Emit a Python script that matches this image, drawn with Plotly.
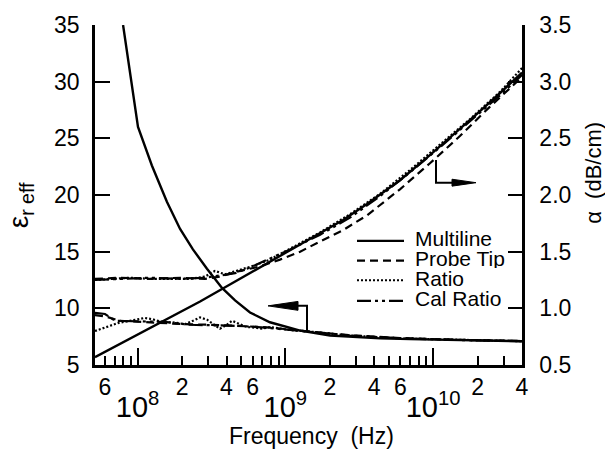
import plotly.graph_objects as go

# ---------------- data ----------------
# Effective permittivity (left axis)
ml_eps_f = [7.98e7, 1.007e8, 1.25e8, 1.58e8, 1.94e8, 2.37e8, 2.95e8, 3.73e8, 4.57e8, 5.77e8,
            7.87e8, 1.26e9, 2.01e9, 2.74e9, 4.38e9, 6.98e9, 1.30e10, 2.08e10, 4.0e10]
ml_eps = [35.0, 26.0, 22.6, 19.4, 17.0, 15.2, 13.5, 11.8, 10.7, 9.63,
          8.77, 8.04, 7.6, 7.5, 7.35, 7.28, 7.2, 7.15, 7.1]

pt_eps_f = [5.15e7, 6.02e7, 7.6e7, 1.04e8, 1.42e8, 2.09e8, 3.09e8, 4.22e8, 5.77e8, 7.87e8,
            1.08e9, 1.47e9, 2.74e9, 5.97e9, 1.52e10, 4.0e10]
pt_eps = [9.4, 9.3, 8.9, 8.8, 8.75, 8.6, 8.55, 8.5, 8.4, 8.3, 8.15, 7.95, 7.62, 7.38, 7.22, 7.12]

ra_eps_f = [5.15e7, 6.02e7, 7.37e7, 8.89e7, 1.12e8, 1.25e8, 1.46e8, 1.79e8, 2.09e8, 2.37e8,
            2.65e8, 2.95e8, 3.24e8, 3.61e8, 3.97e8, 4.36e8, 4.94e8, 5.50e8, 6.24e8, 6.95e8,
            7.87e8, 9.2e8, 1.13e9, 1.47e9, 2.74e9, 5.97e9, 1.52e10, 4.0e10]
ra_eps = [8.0, 8.3, 8.7, 8.9, 9.15, 9.05, 8.8, 8.75, 8.6, 8.9,
          9.2, 9.0, 8.6, 8.2, 8.5, 8.9, 8.6, 8.35, 8.3, 8.2,
          8.35, 8.2, 8.05, 7.95, 7.6, 7.35, 7.2, 7.1]

cr_eps_f = [5.15e7, 6.02e7, 7.04e7, 1.04e8, 1.53e8, 2.26e8, 3.34e8, 4.94e8, 7.29e8, 1.08e9,
            1.47e9, 2.74e9, 5.97e9, 1.52e10, 4.0e10]
cr_eps = [9.6, 9.5, 8.9, 8.85, 8.8, 8.55, 8.5, 8.45, 8.3, 8.1, 7.95, 7.6, 7.36, 7.2, 7.1]

# Attenuation alpha in dB/cm (right axis)
ml_a_f = [5.15e7, 7.6e7, 1.007e8, 1.46e8, 2.09e8, 2.65e8, 3.73e8, 4.94e8, 6.74e8, 9.2e8,
          1.26e9, 1.72e9, 2.46e9, 3.57e9, 5.97e9, 9.1e9, 1.52e10, 2.08e10, 2.84e10, 4.0e10]
ml_a = [0.57, 0.685, 0.77, 0.88, 0.99, 1.06, 1.17, 1.26, 1.36, 1.46,
        1.56, 1.66, 1.78, 1.92, 2.13, 2.33, 2.58, 2.74, 2.90, 3.08]

pt_a_f = [5.15e7, 7.6e7, 1.21e8, 1.94e8, 2.86e8, 3.61e8, 4.94e8, 6.74e8, 9.2e8, 1.26e9,
          1.72e9, 2.46e9, 3.57e9, 5.97e9, 9.53e9, 1.52e10, 2.43e10, 4.0e10]
pt_a = [1.26, 1.27, 1.26, 1.27, 1.26, 1.28, 1.33, 1.37, 1.43, 1.50,
        1.59, 1.69, 1.82, 2.05, 2.28, 2.52, 2.78, 3.04]

ra_a_f = [5.15e7, 6.51e7, 8.89e7, 1.21e8, 1.66e8, 2.26e8, 2.86e8, 3.34e8, 3.91e8, 4.94e8,
          6.24e8, 7.87e8, 1.08e9, 1.72e9, 2.74e9, 4.38e9, 6.98e9, 1.11e10, 1.78e10, 2.84e10, 4.0e10]
ra_a = [1.25, 1.26, 1.27, 1.26, 1.26, 1.26, 1.28, 1.33, 1.30, 1.34,
        1.38, 1.43, 1.53, 1.67, 1.83, 2.01, 2.22, 2.44, 2.67, 2.91, 3.12]

cr_a_f = [5.15e7, 7.6e7, 1.21e8, 1.94e8, 2.86e8, 3.61e8, 4.57e8, 5.77e8, 7.87e8, 1.08e9,
          1.72e9, 2.74e9, 4.38e9, 6.98e9, 1.11e10, 1.78e10, 2.84e10, 4.0e10]
cr_a = [1.25, 1.26, 1.27, 1.26, 1.27, 1.29, 1.31, 1.36, 1.44, 1.52,
        1.65, 1.80, 1.99, 2.20, 2.42, 2.65, 2.88, 3.06]

series_names = ["Multiline", "Probe Tip", "Ratio", "Cal Ratio"]

x_label_vals = [6e7, 2e8, 4e8, 6e8, 2e9, 4e9, 6e9, 2e10, 4e10]
x_label_text = ["6", "2", "4", "6", "2", "4", "6", "2", "4"]
x_minor_vals = [7e7, 8e7, 9e7, 3e8, 5e8, 7e8, 8e8, 9e8,
                3e9, 5e9, 7e9, 8e9, 9e9, 3e10]
decades = [1e8, 1e9, 1e10]
decade_labels = ["10<sup>8</sup>", "10<sup>9</sup>", "10<sup>10</sup>"]
eps_ticks = [5, 10, 15, 20, 25, 30, 35]
alpha_ticks = [0.5, 1.0, 1.5, 2.0, 2.5, 3.0, 3.5]
alpha_tick_text = ["0.5", "1.0", "1.5", "2.0", "2.5", "3.0", "3.5"]

# ---------------- styling ----------------
FONT = "Liberation Sans, Arial, Helvetica, sans-serif"
styles = {
    "Multiline": dict(color="black", width=2.4, dash="solid"),
    "Probe Tip": dict(color="black", width=2.2, dash="8px,5px"),
    "Ratio": dict(color="black", width=2.2, dash="2px,2px"),
    "Cal Ratio": dict(color="black", width=2.2, dash="14px,4px,3px,4px,3px,4px"),
}

fig = go.Figure()
eps_sets = [(ml_eps_f, ml_eps), (pt_eps_f, pt_eps), (ra_eps_f, ra_eps), (cr_eps_f, cr_eps)]
a_sets = [(ml_a_f, ml_a), (pt_a_f, pt_a), (ra_a_f, ra_a), (cr_a_f, cr_a)]
for i in [3, 2, 1, 0]:  # multiline drawn last (on top)
    name = series_names[i]
    fx, fy = eps_sets[i]
    fig.add_trace(go.Scatter(x=fx, y=fy, mode="lines", name=name, line=styles[name],
                             showlegend=False, xaxis="x", yaxis="y"))
    gx, gy = a_sets[i]
    fig.add_trace(go.Scatter(x=gx, y=gy, mode="lines", name=name, line=styles[name],
                             showlegend=False, xaxis="x", yaxis="y2"))

W, H = 605, 451
# plot box in pixels
L, R, T, B = 95, 522, 20, 365
XR = [7.712, 10.602]


def px(xp):
    return (xp - L) / (R - L)


def py(yp):
    return (B - yp) / (B - T)


shapes = []
annotations = []

# legend (sample lines + labels)
leg_rows = [239, 259, 279, 300]
for name, yr in zip(series_names, leg_rows):
    shapes.append(dict(type="line", xref="paper", yref="paper",
                       x0=px(357), x1=px(404), y0=py(yr), y1=py(yr), line=styles[name]))
    annotations.append(dict(text=name, xref="paper", yref="paper", x=px(413), y=py(yr - 2),
                            xanchor="left", yanchor="middle", showarrow=False, height=19,
                            valign="middle",
                            font=dict(family=FONT, size=21, color="black")))

# arrows (left arrow -> eps axis, right arrow -> alpha axis)
arrow_line = dict(color="black", width=2)
shapes.append(dict(type="path", xref="paper", yref="paper",
                   path=f"M {px(307)} {py(331)} L {px(307)} {py(305)} L {px(296)} {py(305)}",
                   line=arrow_line))
shapes.append(dict(type="path", xref="paper", yref="paper",
                   path=f"M {px(268)} {py(305)} L {px(298)} {py(300.5)} L {px(298)} {py(309.5)} Z",
                   fillcolor="black", line=dict(color="black", width=1)))
shapes.append(dict(type="path", xref="paper", yref="paper",
                   path=f"M {px(436)} {py(157)} L {px(436)} {py(180)} L {px(455)} {py(180)}",
                   line=arrow_line))
shapes.append(dict(type="path", xref="paper", yref="paper",
                   path=f"M {px(476)} {py(180)} L {px(452)} {py(176.5)} L {px(452)} {py(183.5)} Z",
                   fillcolor="black", line=dict(color="black", width=1)))

annotations.append(dict(text="Frequency\u00a0 (Hz)", xref="paper", yref="paper",
                        x=px(311), y=py(437), xanchor="center", yanchor="middle",
                        showarrow=False, font=dict(family=FONT, size=23, color="black")))
annotations.append(dict(text="\u03b5<sub>r eff</sub>", xref="paper", yref="paper",
                        x=px(20), y=py(203), xanchor="center", yanchor="middle", textangle=-90,
                        showarrow=False, font=dict(family=FONT, size=28, color="black")))
annotations.append(dict(text="\u03b1\u00a0 (dB/cm)", xref="paper", yref="paper",
                        x=px(594), y=py(170), xanchor="center", yanchor="middle", textangle=-90,
                        showarrow=False, font=dict(family=FONT, size=22, color="black")))

tickfont = dict(family=FONT, size=23, color="black")
fig.update_layout(
    width=W, height=H, autosize=False,
    margin=dict(l=L, r=W - R, t=T, b=H - B, pad=0),
    paper_bgcolor="white", plot_bgcolor="white",
    showlegend=False,
    font=dict(family=FONT, color="black"),
    xaxis=dict(type="log", range=XR, showline=True, linecolor="black", linewidth=2.5,
               ticks="inside", ticklen=9, tickwidth=2, tickcolor="black",
               tickmode="array", tickvals=x_label_vals, ticktext=x_label_text,
               tickfont=tickfont, showgrid=False, zeroline=False, ticklabelstandoff=0,
               ticklabeloverflow="allow",
               minor=dict(tickmode="array", tickvals=x_minor_vals, ticks="inside", ticklen=9,
                          tickwidth=2, tickcolor="black", showgrid=False)),
    xaxis2=dict(type="log", range=XR, overlaying="x", side="bottom", anchor="y",
                showline=False, ticks="inside", ticklen=17, tickwidth=2, tickcolor="black",
                tickmode="array", tickvals=decades, ticktext=decade_labels,
                tickfont=dict(family=FONT, size=29, color="black"),
                ticklabelstandoff=22, showgrid=False, zeroline=False,
                ticklabeloverflow="allow"),
    yaxis=dict(range=[5, 35], showline=True, linecolor="black", linewidth=2.5,
               ticks="inside", ticklen=15, tickwidth=2, tickcolor="black",
               tickmode="array", tickvals=eps_ticks, tickfont=tickfont,
               showgrid=False, zeroline=False, ticklabelstandoff=8,
               ticklabeloverflow="allow"),
    yaxis2=dict(range=[0.5, 3.5], overlaying="y", side="right", showline=True,
                linecolor="black", linewidth=2.5, ticks="inside", ticklen=14, tickwidth=2,
                tickcolor="black", tickmode="array", tickvals=alpha_ticks,
                ticktext=alpha_tick_text, tickfont=tickfont, showgrid=False, zeroline=False,
                ticklabelstandoff=10, ticklabeloverflow="allow"),
    shapes=shapes,
    annotations=annotations,
)
# an invisible helper trace so the decade axis is drawn
fig.add_trace(go.Scatter(x=[decades[0]], y=[eps_ticks[0]], xaxis="x2", yaxis="y",
                         mode="markers", marker=dict(opacity=0), showlegend=False,
                         hoverinfo="skip"))

fig.write_html("out.html", config={"displayModeBar": False},
               post_script="document.body.style.margin='0';document.body.style.overflow='hidden';")
